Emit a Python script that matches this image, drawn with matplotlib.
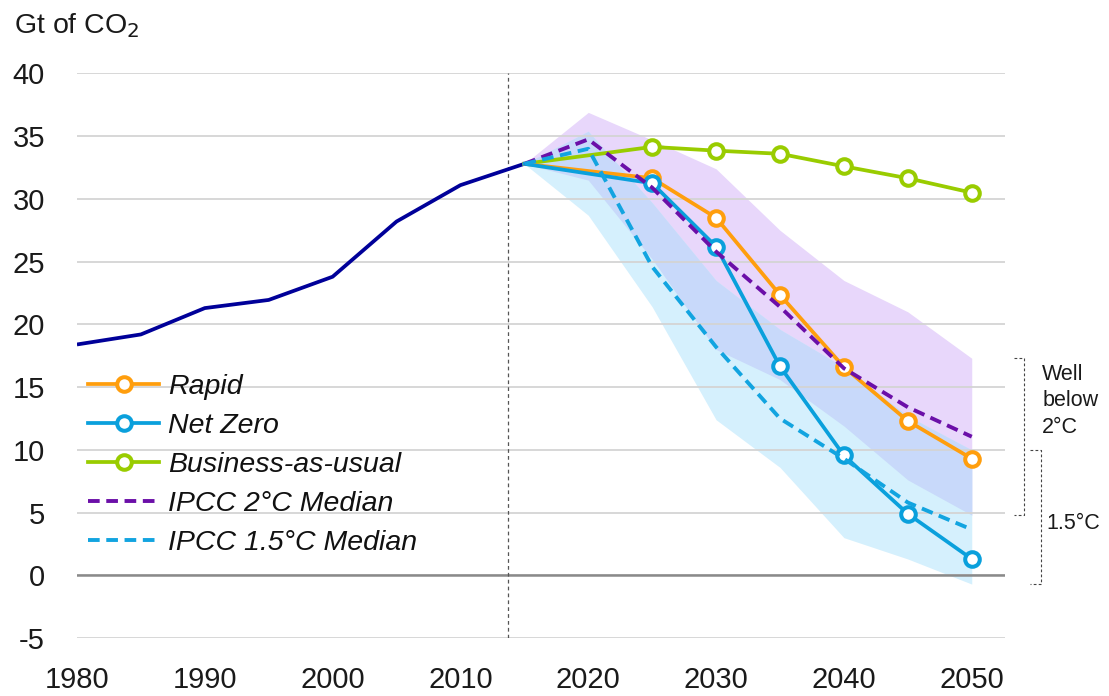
import numpy as np
import matplotlib
matplotlib.use("Agg")
import matplotlib.pyplot as plt
import matplotlib.transforms as mtransforms
from matplotlib.lines import Line2D

plt.rcParams['font.family'] = ['Liberation Sans', 'DejaVu Sans']

# ---------------- data ----------------
hist_years = [1980, 1985, 1990, 1995, 2000, 2005, 2010, 2015]
hist_vals = [18.4, 19.2, 21.3, 21.95, 23.8, 28.2, 31.1, 32.8]

scen_years = [2015, 2025, 2030, 2035, 2040, 2045, 2050]
rapid = [32.8, 31.65, 28.5, 22.35, 16.6, 12.3, 9.3]
net_zero = [32.8, 31.25, 26.2, 16.65, 9.55, 4.9, 1.3]
bau = [32.8, 34.15, 33.85, 33.6, 32.6, 31.65, 30.5]

ipcc_years = [2015, 2020, 2025, 2030, 2035, 2040, 2045, 2050]
ipcc2_median = [32.8, 34.75, 30.9, 25.8, 21.4, 16.5, 13.4, 11.05]
ipcc15_median = [32.8, 34.0, 24.6, 18.2, 12.5, 9.3, 5.8, 3.65]
ipcc2_upper = [32.8, 36.9, 34.7, 32.4, 27.5, 23.5, 21.0, 17.3]
ipcc2_lower = [32.8, 31.5, 25.2, 18.0, 15.6, 11.9, 7.6, 4.8]
ipcc15_upper = [32.8, 35.4, 29.7, 23.5, 19.6, 16.6, 12.7, 10.0]
ipcc15_lower = [32.8, 28.7, 21.4, 12.4, 8.6, 3.0, 1.3, -0.7]

series_labels = ["Rapid", "Net Zero", "Business-as-usual",
                 "IPCC 2°C Median", "IPCC 1.5°C Median"]
x_ticks = [1980, 1990, 2000, 2010, 2020, 2030, 2040, 2050]
y_ticks = [-5, 0, 5, 10, 15, 20, 25, 30, 35, 40]
history_divider = 2013.7

# ---------------- style ----------------
C_HIST = '#000099'
C_RAPID = '#FF9E0D'
C_NZ = '#0AA0DC'
C_BAU = '#99CC00'
C_IPCC2 = '#6B0FA8'
C_IPCC15 = '#12A4E0'
C_P_ONLY = '#E8D7FB'
C_B_ONLY = '#D5F0FD'
C_OVER = '#C8D9FA'

fig = plt.figure(figsize=(11.09, 6.96), dpi=100)
ax = fig.add_axes([0.0694, 0.0833, 0.8368, 0.8111])

ax.set_xlim(1980, 2052.6)
ax.set_ylim(-5, 40)

iy = np.array(ipcc_years, dtype=float)
p_lo = np.array(ipcc2_lower); p_hi = np.array(ipcc2_upper)
b_lo = np.array(ipcc15_lower); b_hi = np.array(ipcc15_upper)

ax.fill_between(iy, p_lo, p_hi, color=C_P_ONLY, lw=0, zorder=1)
ax.fill_between(iy, b_lo, b_hi, color=C_B_ONLY, lw=0, zorder=1.05)
ax.fill_between(iy, np.maximum(p_lo, b_lo), np.minimum(p_hi, b_hi),
                where=np.minimum(p_hi, b_hi) >= np.maximum(p_lo, b_lo),
                interpolate=True, color=C_OVER, lw=0, zorder=1.1)

ax.set_axisbelow('line')
ax.yaxis.grid(True, color='#d4d4d4', lw=1.3)
ax.xaxis.grid(False)
ax.axhline(0, color='#8a8a8a', lw=1.8, zorder=1.6)
ax.axvline(history_divider, color='#555555', lw=0.9, ls=(0, (3, 2.5)), zorder=1.7)

lw = 2.7
ms = 10.5
mew = 2.9
mk = dict(marker='o', markersize=ms, markerfacecolor='white', markeredgewidth=mew,
          markevery=slice(1, None))
ax.plot(hist_years, hist_vals, color=C_HIST, lw=lw, zorder=3, solid_capstyle='butt')
ax.plot(scen_years, bau, color=C_BAU, lw=lw, markeredgecolor=C_BAU, zorder=3.1, **mk)
ax.plot(scen_years, rapid, color=C_RAPID, lw=lw, markeredgecolor=C_RAPID, zorder=3.2, **mk)
ax.plot(scen_years, net_zero, color=C_NZ, lw=lw, markeredgecolor=C_NZ, zorder=3.3, **mk)
dash = (0, (3.0, 1.7))
dlw = 2.8
ax.plot(ipcc_years, ipcc2_median, color=C_IPCC2, lw=dlw, ls=dash, zorder=3.4)
ax.plot(ipcc_years, ipcc15_median, color=C_IPCC15, lw=dlw, ls=dash, zorder=3.5)

for s in ax.spines.values():
    s.set_visible(False)
ax.set_xticks(x_ticks)
ax.set_yticks(y_ticks)
ax.set_yticklabels([str(v) for v in y_ticks])
ax.tick_params(axis='both', length=0, labelsize=21, colors='#1a1a1a')
ax.tick_params(axis='y', pad=23)
ax.tick_params(axis='x', pad=20)

fig.text(0.013, 0.952, "Gt of CO$_2$", fontsize=20.5, color='#1a1a1a',
         ha='left', va='baseline')

# legend
def mhandle(c):
    return Line2D([], [], color=c, lw=lw, marker='o', markersize=ms,
                  markerfacecolor='white', markeredgecolor=c, markeredgewidth=mew)
handles = [
    mhandle(C_RAPID), mhandle(C_NZ), mhandle(C_BAU),
    Line2D([], [], color=C_IPCC2, lw=dlw, ls=dash),
    Line2D([], [], color=C_IPCC15, lw=dlw, ls=dash),
]
leg = ax.legend(handles, series_labels, loc='upper left',
                bbox_to_anchor=(0.012, 0.468), frameon=False, borderpad=0,
                borderaxespad=0, handlelength=2.5, handletextpad=0.3,
                labelspacing=0.46, numpoints=1,
                prop=dict(family='Liberation Sans', style='italic', size=20.5))
for t in leg.get_texts():
    t.set_color('#111111')

# right-side brackets
trans = mtransforms.blended_transform_factory(ax.transAxes, ax.transData)
def bracket(x0, x1, ytop, ybot):
    ax.plot([x0, x1, x1, x0], [ytop, ytop, ybot, ybot], transform=trans,
            clip_on=False, color='#444444', lw=0.8, ls=(0, (2.5, 2)))

bracket(1.0097, 1.0205, ipcc2_upper[-1], ipcc2_lower[-1])
bracket(1.0269, 1.0388, ipcc15_upper[-1], ipcc15_lower[-1])
ax.text(1.040, 13.9, "Well\nbelow\n2°C", transform=trans, fontsize=15.5,
        ha='left', va='center', linespacing=1.32, color='#1a1a1a')
ax.text(1.0445, 4.1, "1.5°C", transform=trans, fontsize=15.5,
        ha='left', va='center', color='#1a1a1a')

fig.savefig("out.png", dpi=100)
